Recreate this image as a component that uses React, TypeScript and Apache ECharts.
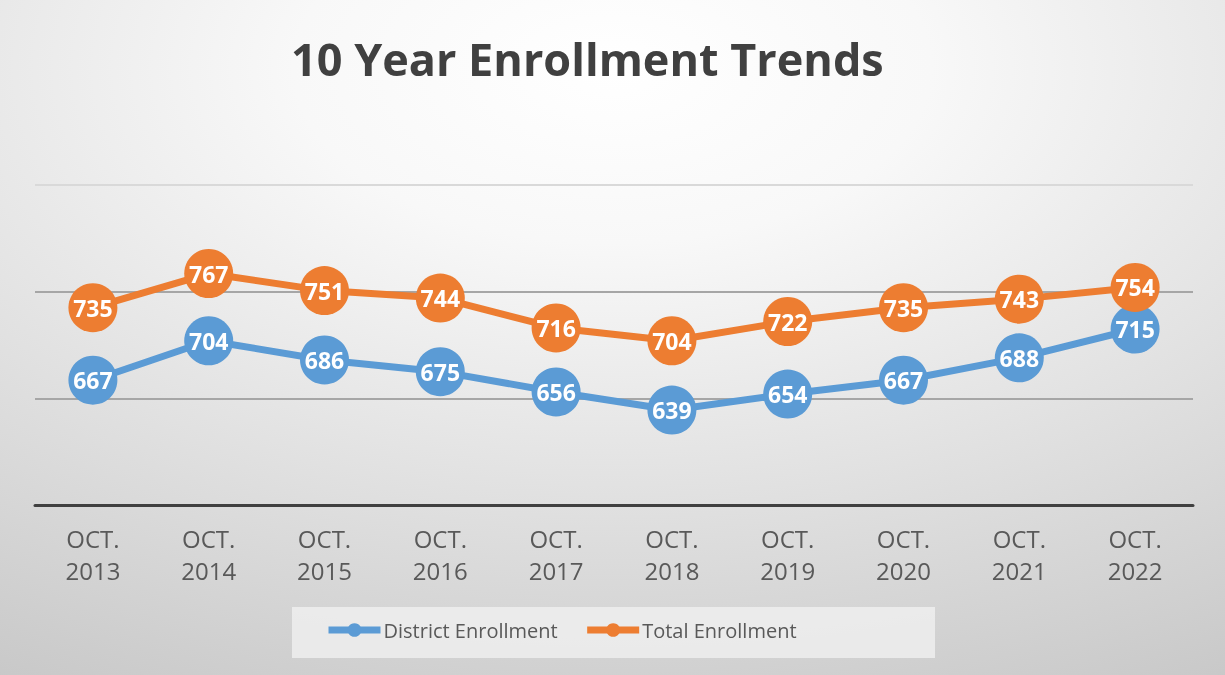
import React, { useEffect, useRef } from "react";
import * as echarts from "echarts";

const categories = [
  "OCT.\n2013", "OCT.\n2014", "OCT.\n2015", "OCT.\n2016", "OCT.\n2017",
  "OCT.\n2018", "OCT.\n2019", "OCT.\n2020", "OCT.\n2021", "OCT.\n2022",
];
const districtEnrollment = [667, 704, 686, 675, 656, 639, 654, 667, 688, 715];
const totalEnrollment = [735, 767, 751, 744, 716, 704, 722, 735, 743, 754];
const seriesNames = ["District Enrollment", "Total Enrollment"];
const titleText = "10 Year Enrollment Trends";

export default function App() {
  const ref = useRef<HTMLDivElement>(null);
  useEffect(() => {
    if (!ref.current) return;
    const chart = echarts.init(ref.current, undefined, { renderer: "svg" });
    const font = "'Open Sans', 'Noto Sans', sans-serif";
    const mkSeries = (name: string, data: number[], color: string) => ({
      name,
      type: "line",
      data,
      symbol: "circle",
      symbolSize: 49,
      itemStyle: { color },
      lineStyle: { color, width: 7 },
      label: {
        show: true,
        position: "inside",
        color: "#ffffff",
        fontWeight: "bold",
        fontSize: 23,
        fontFamily: font,
      },
      z: 3,
    });
    chart.setOption({
      animation: false,
      backgroundColor: {
        type: "radial",
        x: 0.5,
        y: 0.1,
        r: 1.3,
        colorStops: [
          { offset: 0, color: "#ffffff" },
          { offset: 0.2, color: "#f8f8f8" },
          { offset: 1, color: "#b8b8b8" },
        ],
      },
      title: {
        text: titleText,
        left: 286,
        top: 31,
        textStyle: {
          fontFamily: font,
          fontSize: 45,
          fontWeight: "bold",
          color: "#404040",
        },
      },
      grid: { left: 35, right: 32, top: 185, bottom: 170 },
      xAxis: {
        type: "category",
        data: categories,
        boundaryGap: true,
        axisLine: { lineStyle: { color: "#404040", width: 3 } },
        axisTick: { show: false },
        axisLabel: {
          color: "#595959",
          fontSize: 24,
          lineHeight: 32,
          margin: 17,
          fontFamily: font,
        },
      },
      yAxis: {
        type: "value",
        min: 550,
        max: 850,
        interval: 100,
        axisLabel: { show: false },
        axisLine: { show: false },
        axisTick: { show: false },
        splitLine: {
          lineStyle: {
            color: ["#a6a6a6", "#a6a6a6", "#a6a6a6", "#d9d9d9"],
            width: 2,
          },
        },
      },
      graphic: [
        {
          type: "rect",
          left: 292,
          top: 607,
          shape: { width: 643, height: 51 },
          style: { fill: "rgba(240,240,240,0.8)" },
          z: 0,
        },
      ],
      legend: {
        top: 620,
        left: 325,
        itemWidth: 52,
        itemHeight: 17,
        itemGap: 26,
        padding: 0,
        lineStyle: { width: 7 },
        textStyle: {
          fontSize: 20,
          color: "#595959",
          fontFamily: font,
          padding: [0, 0, 0, -2],
        },
        data: seriesNames,
      },
      series: [
        mkSeries(seriesNames[0], districtEnrollment, "#5B9BD5"),
        mkSeries(seriesNames[1], totalEnrollment, "#ED7D31"),
      ],
    });
    return () => chart.dispose();
  }, []);
  return (
    <div
      ref={ref}
      style={{ width: 1225, height: 675, position: "fixed", left: 0, top: 0 }}
    />
  );
}
